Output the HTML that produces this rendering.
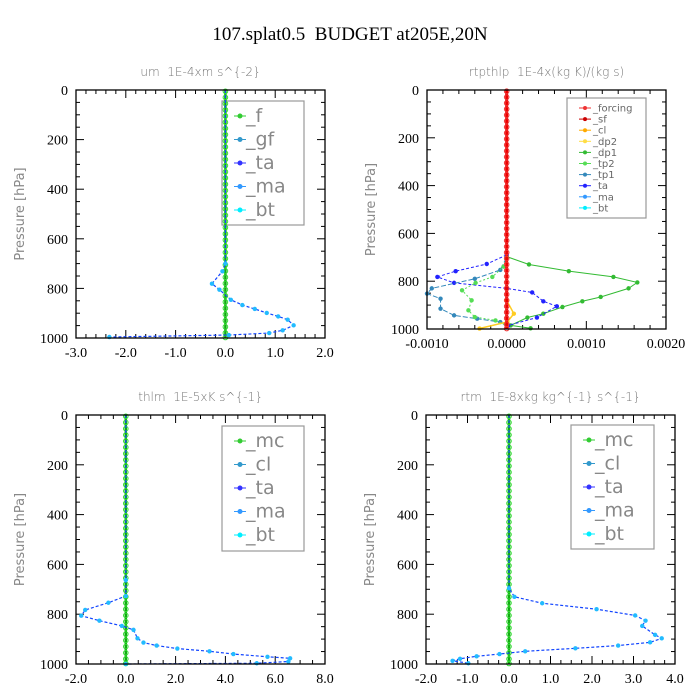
<!DOCTYPE html>
<html><head><meta charset="utf-8"><style>
body{margin:0;background:#fff;}
svg{display:block;}
text{white-space:pre;}
.tl{font-family:"Liberation Serif",serif;font-size:14px;fill:#000;}
.pt{font-family:"DejaVu Sans","Liberation Sans",sans-serif;font-size:12px;fill:#777;font-weight:200;}
.yl{font-family:"DejaVu Sans","Liberation Sans",sans-serif;font-size:13px;fill:#888;}
.lg{font-family:"DejaVu Sans","Liberation Sans",sans-serif;font-size:19px;fill:#888;}
.lgs{font-family:"DejaVu Sans","Liberation Sans",sans-serif;font-size:10px;fill:#666;}
</style></head><body>
<svg id="chart" width="700" height="700" xmlns="http://www.w3.org/2000/svg">
<text x="350" y="40" text-anchor="middle" font-family="Liberation Serif, serif" font-size="19" xml:space="preserve">107.splat0.5  BUDGET at205E,20N</text>
</svg>
<script>
// shared zero-line marker levels (hPa)
const zeroLevels=[5,30,55,80,105,130,155,180,205,230,255,280,305,330,355,380,405,430,455,480,505,530,555,580,605,630,655,680,705,730,755,780,805,830,855,880,905,930,955,980,998];
// um panel
const umP=[0,700,731,781,805,846,867,883,899,913,926,949,969,980,988,996];
const umX=[0,0,-0.06,-0.27,-0.12,0.11,0.34,0.59,0.83,1.06,1.25,1.37,1.15,0.88,0.07,-2.33];
const umXTicks=["-3.0","-2.0","-1.0","0.0","1.0","2.0"];
// rtpthlp panel
const dp1P=[0,697,730,758,782,805,830,866,884,908,936,952,985,997];
const dp1X=[0,0,0.00028,0.00078,0.00134,0.00164,0.00153,0.00118,0.00095,0.0007,0.00046,0.00026,0.00005,0.0003];
const taP=[0,690,728,758,782,807,830,847,884,905,952,985];
const taX=[0,0,-0.00025,-0.00064,-0.00087,-0.00066,0,0.00032,0.00046,0.00063,0.00038,0.00002];
const tp1P=[0,700,753,790,830,852,873,915,943,957,971,990];
const tp1X=[0,0,-0.00008,-0.0004,-0.00094,-0.001,-0.00083,-0.00083,-0.00066,-0.00037,-0.00008,0];
const tp2P=[0,700,739,782,807,838,880,922,950,964,985];
const tp2X=[0,0,-0.00004,-0.00018,-0.00039,-0.00056,-0.00044,-0.00048,-0.0004,-0.00014,0];
const dp2P=[0,880,936,970,998];
const dp2X=[0,0,0.00009,0.00001,-0.00034];
const rtXTicks=["-0.0010","0.0000","0.0010","0.0020"];
// thlm panel
const thP=[0,663,727,754,783,806,826,847,863,897,914,926,938,949,960,971,977,990,997,1000];
const thX=[0,0,0,-0.7,-1.63,-1.79,-1.06,-0.16,0.31,0.47,0.71,1.24,2.07,3.36,4.32,5.69,6.6,6.53,5.26,0];
const thXTicks=["-2.0","0.0","2.0","4.0","6.0","8.0"];
// rtm panel
const rtP=[0,696,730,756,780,805,826,847,883,897,913,926,937,949,960,969,979,987,997];
const rtX=[0,0,0.13,0.8,2.11,3.04,3.29,3.21,3.52,3.68,3.4,2.63,1.6,0.39,-0.23,-0.78,-1.18,-1.36,-0.98];
const rtmXTicks=["-2.0","-1.0","0.0","1.0","2.0","3.0","4.0"];

const NS="http://www.w3.org/2000/svg";
const svg=document.getElementById('chart');
function mk(tag,attrs,parent){const e=document.createElementNS(NS,tag);for(const k in attrs)e.setAttribute(k,attrs[k]);(parent||svg).appendChild(e);return e;}

function panel(o){
  const g=mk('g',{});
  
  
  const xs=v=>o.x0+(v-o.xmin)/(o.xmax-o.xmin)*(o.x1-o.x0);
  const ys=p=>o.y0+p/1000*(o.y1-o.y0);
  o.xs=xs;o.ys=ys;o.g=g;
  const t=mk('text',{x:(o.x0+o.x1)/2,y:o.y0-14,'text-anchor':'middle',class:'pt'},g);t.textContent=o.title;
  
  
  const yl=mk('text',{x:0,y:0,'text-anchor':'middle',class:'yl',transform:`translate(${o.x0-52},${(o.y0+o.y1)/2}) rotate(-90)`},g);yl.textContent='Pressure [hPa]';
  
  
  for(let p=0;p<=1000;p+=50){
    const y=ys(p),maj=p%200===0,L=maj?8:4;
    mk('line',{x1:o.x0,x2:o.x0+L,y1:y,y2:y,stroke:'#000'},g);
    mk('line',{x1:o.x1,x2:o.x1-L,y1:y,y2:y,stroke:'#000'},g);
    if(maj){const tx=mk('text',{x:o.x0-8,y:y+5,'text-anchor':'end',class:'tl'},g);tx.textContent=String(p);
      
      }
  }
  const n=o.ticks.length-1;
  for(let i=0;i<=n*o.minor;i++){
    const v=o.xmin+(o.xmax-o.xmin)*i/(n*o.minor),x=xs(v),maj=i%o.minor===0,L=maj?8:4;
    mk('line',{x1:x,x2:x,y1:o.y1,y2:o.y1-L,stroke:'#000'},g);
    mk('line',{x1:x,x2:x,y1:o.y0,y2:o.y0+L,stroke:'#000'},g);
  }
  o.ticks.forEach((lab,i)=>{const tx=mk('text',{x:xs(o.xmin+(o.xmax-o.xmin)*i/n),y:o.y1+19,'text-anchor':'middle',class:'tl'},g);tx.textContent=lab;
    
    });
  return o;
}
function series(o,X,P,color,dash,marker,name,w){
  const pts=X.map((v,i)=>o.xs(v)+','+o.ys(P[i])).join(' ');
  const pl=mk('polyline',{points:pts,fill:'none',stroke:color,'stroke-width':w||1,'stroke-dasharray':dash||'none'},o.g);
  
  
  X.forEach((v,i)=>{ if(P[i]===0)return; mk('circle',{cx:o.xs(v),cy:o.ys(P[i]),r:2.2,fill:marker},o.g);});
}
function zeroLine(o,color,mcolor,name,w){
  const x=o.xs(0);
  const l=mk('line',{x1:x,x2:x,y1:o.ys(0),y2:o.ys(1000),stroke:color,'stroke-width':w},o.g);
  
  
  zeroLevels.forEach(p=>mk('circle',{cx:x,cy:o.ys(p),r:2.3,fill:'none',stroke:mcolor,'stroke-width':1},o.g));
}
function frame(o){mk('rect',{x:o.x0,y:o.y0,width:o.x1-o.x0,height:o.y1-o.y0,fill:'none',stroke:'#000','stroke-width':1.3},o.g);}
function legend(o,bx,by,bw,bh,items,cls,sp,first){
  const lg=mk('g',{},o.g);
  
  
  mk('rect',{x:bx,y:by,width:bw,height:bh,fill:'#fff',stroke:'#999','stroke-width':1.2},lg);
  items.forEach((it,i)=>{const y=first+i*sp;
    const e=mk('g',{},lg);
    
    
    mk('line',{x1:bx+12,x2:bx+24,y1:y,y2:y,stroke:it[1]},e);
    mk('circle',{cx:bx+18,cy:y,r:cls==='lg'?2.5:2,fill:it[1]},e);
    const t=mk('text',{x:bx+(cls==='lg'?24:26),y:y+(cls==='lg'?6:3.5),class:cls},e);t.textContent=it[0];});
}

let A=panel({name:'um-panel',title:'um  1E-4xm s^{-2}',x0:76,x1:325,y0:90,y1:338,xmin:-3,xmax:2,ticks:umXTicks,minor:5});
legend(A,222,101,82,124,[['_f','#3c3'],['_gf','#39c'],['_ta','#33f'],['_ma','#39f'],['_bt','#0ef']],'lg',23.5,116);
zeroLine(A,'#1a1','#3d3','zero-line-f',2.5);
series(A,umX,umP,'#14f','3,2','#2bf','um-bt-line',1.2);
frame(A);
let B=panel({name:'rtpthlp-panel',title:'rtpthlp  1E-4x(kg K)/(kg s)',x0:427,x1:666,y0:90,y1:329,xmin:-0.001,xmax:0.002,ticks:rtXTicks,minor:5});
legend(B,567,98,79,120,[['_forcing','#e33'],['_sf','#c00'],['_cl','#fa0'],['_dp2','#fd4'],['_dp1','#3b3'],['_tp2','#5d5'],['_tp1','#38b'],['_ta','#22f'],['_ma','#39f'],['_bt','#0ef']],'lgs',11.1,108);
series(B,dp1X,dp1P,'#3b3','none','#3b3','dp1-line',1);
series(B,taX,taP,'#22f','3,2','#22f','ta-line',1);
series(B,tp1X,tp1P,'#38b','5,2','#38b','tp1-line',1);
series(B,tp2X,tp2P,'#5d5','2,2','#5d5','tp2-line',1);
series(B,dp2X,dp2P,'#fc2','none','#fc2','dp2-line',1.5);
zeroLine(B,'#e00','#e33','zero-line-forcing',3);
frame(B);
let C=panel({name:'thlm-panel',title:'thlm  1E-5xK s^{-1}',x0:76,x1:325,y0:415,y1:664,xmin:-2,xmax:8,ticks:thXTicks,minor:4});
legend(C,222,426,82,125,[['_mc','#3c3'],['_cl','#39c'],['_ta','#33f'],['_ma','#39f'],['_bt','#0ef']],'lg',23.5,441);
zeroLine(C,'#1a1','#3d3','zero-line-mc',2.5);
series(C,thX,thP,'#14f','3,2','#2bf','thlm-bt-line',1.2);
frame(C);
let D=panel({name:'rtm-panel',title:'rtm  1E-8xkg kg^{-1} s^{-1}',x0:426,x1:675,y0:415,y1:664,xmin:-2,xmax:4,ticks:rtmXTicks,minor:4});
legend(D,571,425,83,124,[['_mc','#3c3'],['_cl','#39c'],['_ta','#33f'],['_ma','#39f'],['_bt','#0ef']],'lg',23.5,440);
zeroLine(D,'#1a1','#3d3','zero-line-mc',2.5);
series(D,rtX,rtP,'#14f','3,2','#2bf','rtm-bt-line',1.2);
frame(D);
</script>
</body></html>
